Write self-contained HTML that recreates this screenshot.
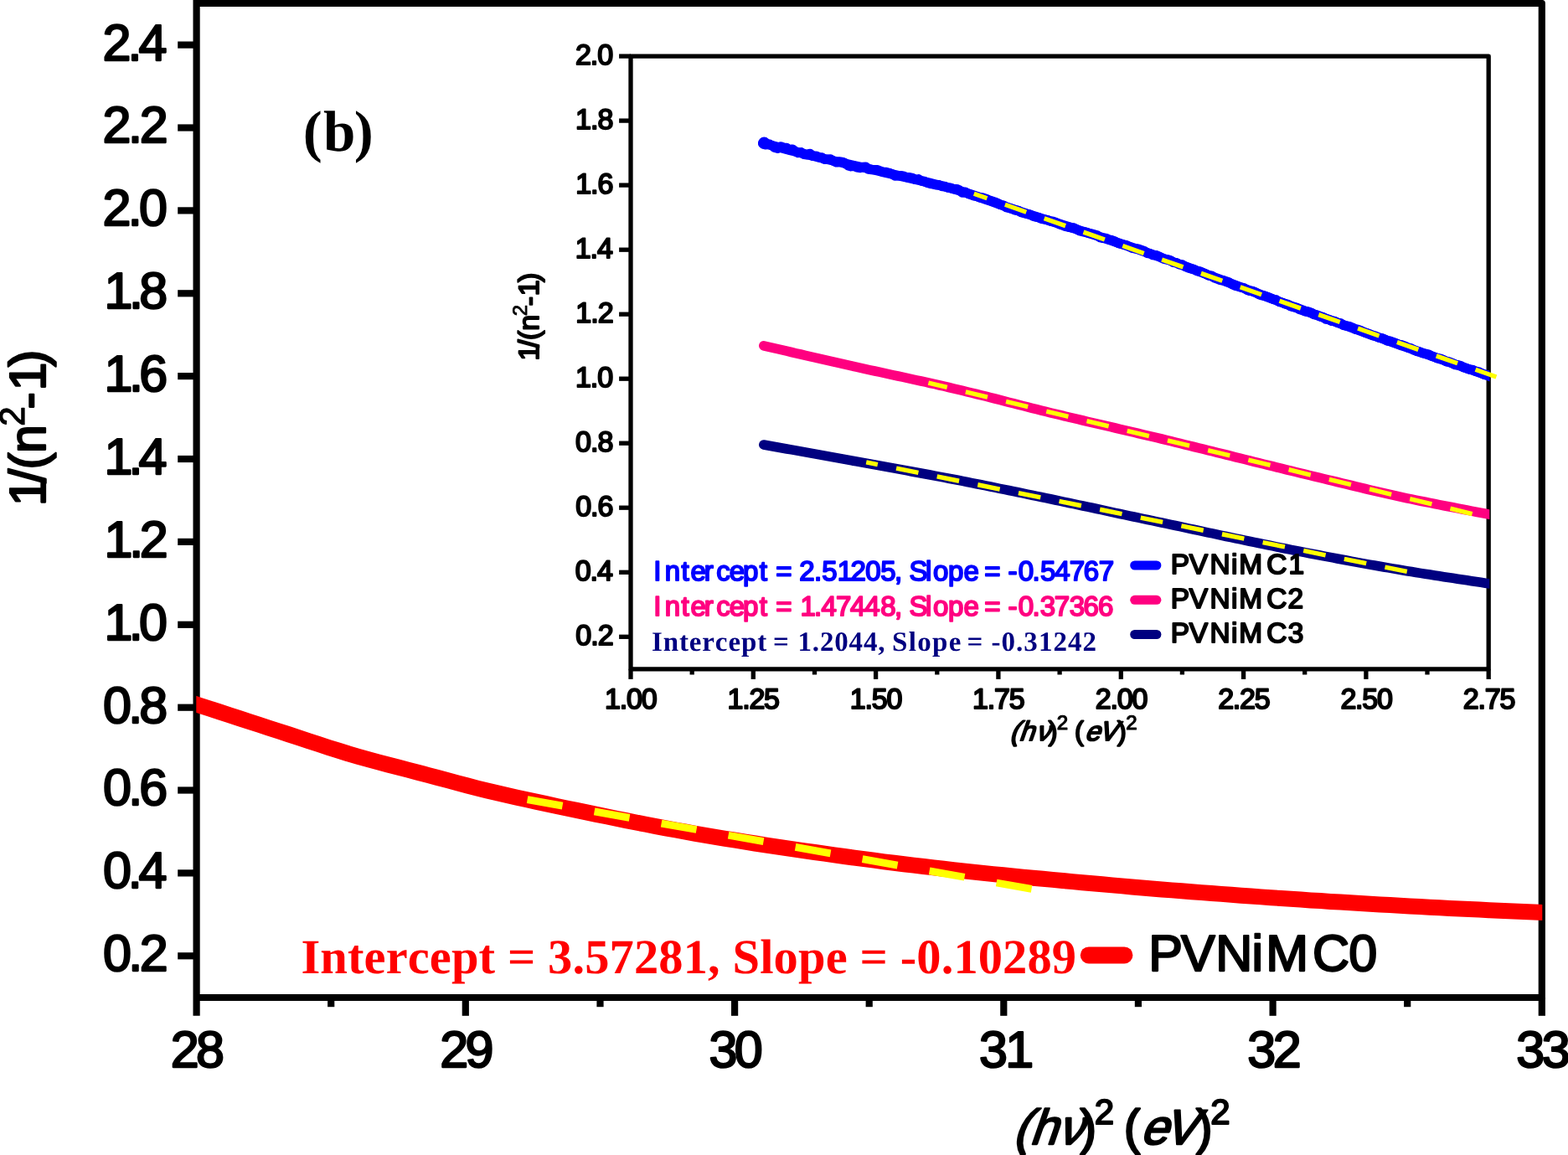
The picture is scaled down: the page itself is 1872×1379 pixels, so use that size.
<!DOCTYPE html>
<html lang="en"><head><meta charset="utf-8"><title>Figure (b)</title>
<style>html,body{margin:0;padding:0;background:#fff;}body{width:1872px;height:1379px;overflow:hidden;}svg{display:block;}</style>
</head><body>
<svg width="1872" height="1379" viewBox="0 0 1872 1379" text-rendering="geometricPrecision">
<g stroke="#000" stroke-width="8.2" fill="none" stroke-linecap="butt">
<path d="M234.6,4.0 L1840.8,4.0 L1840.8,1191.0 L234.6,1191.0" stroke-linejoin="round"/>
<line x1="234.6" x2="234.6" y1="-4" y2="1212.8"/>
<line x1="212.2" x2="234.6" y1="1141.3" y2="1141.3"/>
<line x1="212.2" x2="234.6" y1="1042.4" y2="1042.4"/>
<line x1="212.2" x2="234.6" y1="943.5" y2="943.5"/>
<line x1="212.2" x2="234.6" y1="844.7" y2="844.7"/>
<line x1="212.2" x2="234.6" y1="745.8" y2="745.8"/>
<line x1="212.2" x2="234.6" y1="646.9" y2="646.9"/>
<line x1="212.2" x2="234.6" y1="548.0" y2="548.0"/>
<line x1="212.2" x2="234.6" y1="449.1" y2="449.1"/>
<line x1="212.2" x2="234.6" y1="350.3" y2="350.3"/>
<line x1="212.2" x2="234.6" y1="251.4" y2="251.4"/>
<line x1="212.2" x2="234.6" y1="152.5" y2="152.5"/>
<line x1="212.2" x2="234.6" y1="53.6" y2="53.6"/>
<line x1="555.8" x2="555.8" y1="1191.0" y2="1212.8"/>
<line x1="877.1" x2="877.1" y1="1191.0" y2="1212.8"/>
<line x1="1198.3" x2="1198.3" y1="1191.0" y2="1212.8"/>
<line x1="1519.6" x2="1519.6" y1="1191.0" y2="1212.8"/>
<line x1="1840.8" x2="1840.8" y1="1191.0" y2="1212.8"/>
<line x1="395.2" x2="395.2" y1="1191.0" y2="1202.2"/>
<line x1="716.5" x2="716.5" y1="1191.0" y2="1202.2"/>
<line x1="1037.7" x2="1037.7" y1="1191.0" y2="1202.2"/>
<line x1="1358.9" x2="1358.9" y1="1191.0" y2="1202.2"/>
<line x1="1680.2" x2="1680.2" y1="1191.0" y2="1202.2"/>
</g>
<clipPath id="mc"><rect x="234.29999999999998" y="0" width="1607.0" height="1379"/></clipPath>
<path d="M214.6,834.5 L226.4,838.3 L238.3,842.2 L250.1,846.1 L262.0,849.9 L273.8,853.8 L285.7,857.6 L297.5,861.5 L309.3,865.3 L321.2,869.2 L333.0,873.0 L344.9,876.9 L356.7,880.8 L368.6,884.7 L380.4,888.5 L392.2,892.4 L404.1,896.1 L415.9,899.9 L427.8,903.4 L439.6,906.7 L451.5,909.9 L463.3,913.0 L475.1,916.0 L487.0,919.1 L498.8,922.2 L510.7,925.4 L522.5,928.5 L534.4,931.7 L546.2,934.9 L558.1,938.0 L569.9,941.1 L581.7,944.0 L593.6,946.8 L605.4,949.5 L617.3,952.2 L629.1,954.8 L641.0,957.4 L652.8,959.9 L664.6,962.5 L676.5,965.0 L688.3,967.4 L700.2,969.9 L712.0,972.4 L723.9,974.8 L735.7,977.2 L747.5,979.6 L759.4,982.0 L771.2,984.3 L783.1,986.6 L794.9,988.8 L806.8,991.0 L818.6,993.2 L830.4,995.3 L842.3,997.3 L854.1,999.3 L866.0,1001.3 L877.8,1003.2 L889.7,1005.1 L901.5,1007.0 L913.3,1008.8 L925.2,1010.6 L937.0,1012.4 L948.9,1014.1 L960.7,1015.8 L972.6,1017.5 L984.4,1019.2 L996.2,1020.9 L1008.1,1022.5 L1019.9,1024.1 L1031.8,1025.7 L1043.6,1027.2 L1055.5,1028.8 L1067.3,1030.2 L1079.2,1031.7 L1091.0,1033.1 L1102.8,1034.5 L1114.7,1035.9 L1126.5,1037.2 L1138.4,1038.6 L1150.2,1039.9 L1162.1,1041.1 L1173.9,1042.4 L1185.7,1043.6 L1197.6,1044.8 L1209.4,1045.9 L1221.3,1047.1 L1233.1,1048.2 L1245.0,1049.3 L1256.8,1050.4 L1268.6,1051.5 L1280.5,1052.6 L1292.3,1053.7 L1304.2,1054.8 L1316.0,1055.8 L1327.9,1056.9 L1339.7,1057.9 L1351.5,1059.0 L1363.4,1060.0 L1375.2,1061.0 L1387.1,1062.0 L1398.9,1062.9 L1410.8,1063.8 L1422.6,1064.7 L1434.4,1065.6 L1446.3,1066.5 L1458.1,1067.4 L1470.0,1068.3 L1481.8,1069.2 L1493.7,1070.0 L1505.5,1070.9 L1517.3,1071.7 L1529.2,1072.5 L1541.0,1073.3 L1552.9,1074.1 L1564.7,1074.9 L1576.6,1075.6 L1588.4,1076.4 L1600.3,1077.1 L1612.1,1077.8 L1623.9,1078.5 L1635.8,1079.2 L1647.6,1079.9 L1659.5,1080.6 L1671.3,1081.2 L1683.2,1081.9 L1695.0,1082.5 L1706.8,1083.2 L1718.7,1083.8 L1730.5,1084.4 L1742.4,1085.0 L1754.2,1085.6 L1766.1,1086.1 L1777.9,1086.7 L1789.7,1087.3 L1801.6,1087.8 L1813.4,1088.3 L1825.3,1088.8 L1837.1,1089.3 L1849.0,1089.8 L1860.8,1090.3" fill="none" stroke="#ff0000" stroke-width="19" stroke-linejoin="round" clip-path="url(#mc)"/>
<line x1="629.6" y1="954.7" x2="1232.0" y2="1061.5" stroke="#ffff00" stroke-width="8.8" stroke-dasharray="42.6 38.65"/>
<text x="123.07 153.37 166.69" y="1159.20" style="font-family:'Liberation Sans',Arial,sans-serif;font-size:61.0px" fill="#000" stroke="#000" stroke-width="2.3" stroke-linejoin="round">0.2</text>
<text x="123.07 152.73 165.41" y="1060.32" style="font-family:'Liberation Sans',Arial,sans-serif;font-size:61.0px" fill="#000" stroke="#000" stroke-width="2.3" stroke-linejoin="round">0.4</text>
<text x="123.07 153.18 166.31" y="961.44" style="font-family:'Liberation Sans',Arial,sans-serif;font-size:61.0px" fill="#000" stroke="#000" stroke-width="2.3" stroke-linejoin="round">0.6</text>
<text x="123.07 153.16 166.28" y="862.56" style="font-family:'Liberation Sans',Arial,sans-serif;font-size:61.0px" fill="#000" stroke="#000" stroke-width="2.3" stroke-linejoin="round">0.8</text>
<text x="124.60 153.79 166.01" y="763.68" style="font-family:'Liberation Sans',Arial,sans-serif;font-size:61.0px" fill="#000" stroke="#000" stroke-width="2.3" stroke-linejoin="round">1.0</text>
<text x="124.60 154.14 166.69" y="664.80" style="font-family:'Liberation Sans',Arial,sans-serif;font-size:61.0px" fill="#000" stroke="#000" stroke-width="2.3" stroke-linejoin="round">1.2</text>
<text x="124.60 153.50 165.41" y="565.92" style="font-family:'Liberation Sans',Arial,sans-serif;font-size:61.0px" fill="#000" stroke="#000" stroke-width="2.3" stroke-linejoin="round">1.4</text>
<text x="124.60 153.94 166.31" y="467.04" style="font-family:'Liberation Sans',Arial,sans-serif;font-size:61.0px" fill="#000" stroke="#000" stroke-width="2.3" stroke-linejoin="round">1.6</text>
<text x="124.60 153.93 166.28" y="368.16" style="font-family:'Liberation Sans',Arial,sans-serif;font-size:61.0px" fill="#000" stroke="#000" stroke-width="2.3" stroke-linejoin="round">1.8</text>
<text x="122.38 152.68 166.01" y="269.28" style="font-family:'Liberation Sans',Arial,sans-serif;font-size:61.0px" fill="#000" stroke="#000" stroke-width="2.3" stroke-linejoin="round">2.0</text>
<text x="122.38 153.03 166.69" y="170.40" style="font-family:'Liberation Sans',Arial,sans-serif;font-size:61.0px" fill="#000" stroke="#000" stroke-width="2.3" stroke-linejoin="round">2.2</text>
<text x="122.38 152.39 165.41" y="71.52" style="font-family:'Liberation Sans',Arial,sans-serif;font-size:61.0px" fill="#000" stroke="#000" stroke-width="2.3" stroke-linejoin="round">2.4</text>
<text x="203.77 234.09" y="1274.20" style="font-family:'Liberation Sans',Arial,sans-serif;font-size:61.0px" fill="#000" stroke="#000" stroke-width="2.3" stroke-linejoin="round">28</text>
<text x="525.13 555.45" y="1274.20" style="font-family:'Liberation Sans',Arial,sans-serif;font-size:61.0px" fill="#000" stroke="#000" stroke-width="2.3" stroke-linejoin="round">29</text>
<text x="846.48 876.81" y="1274.20" style="font-family:'Liberation Sans',Arial,sans-serif;font-size:61.0px" fill="#000" stroke="#000" stroke-width="2.3" stroke-linejoin="round">30</text>
<text x="1168.93 1200.30" y="1274.20" style="font-family:'Liberation Sans',Arial,sans-serif;font-size:61.0px" fill="#000" stroke="#000" stroke-width="2.3" stroke-linejoin="round">31</text>
<text x="1489.31 1519.63" y="1274.20" style="font-family:'Liberation Sans',Arial,sans-serif;font-size:61.0px" fill="#000" stroke="#000" stroke-width="2.3" stroke-linejoin="round">32</text>
<text x="1810.35 1840.68" y="1274.20" style="font-family:'Liberation Sans',Arial,sans-serif;font-size:61.0px" fill="#000" stroke="#000" stroke-width="2.3" stroke-linejoin="round">33</text>
<text transform="translate(53.6,600.7) rotate(-90)" y="0" style="font-family:'Liberation Sans',Arial,sans-serif;font-size:61.0px" fill="#000" stroke="#000" stroke-width="2.3" stroke-linejoin="round"><tspan x="-3.50 23.95 40.07 59.80">1/(n</tspan><tspan x="92.04" dy="-24.5" style="font-size:42px" stroke-width="1.3">2</tspan><tspan x="112.14 134.20 162.69" dy="24.5">-1)</tspan></text>
<g><text transform="translate(1208.85,1365.60) skewX(-19.0)" x="0.00 19.93 53.31" y="0" style="font-family:'Liberation Sans',Arial,sans-serif;font-size:58.8px" fill="#000" stroke="#000" stroke-width="2.3" stroke-linejoin="round">(hν</text><text x="1289.41" y="1365.60" style="font-family:'Liberation Sans',Arial,sans-serif;font-size:58.8px" fill="#000" stroke="#000" stroke-width="2.3" stroke-linejoin="round">)</text><text x="1306.69" y="1342.40" style="font-family:'Liberation Sans',Arial,sans-serif;font-size:42px" fill="#000" stroke="#000" stroke-width="2.0" stroke-linejoin="round">2</text><text x="1341.70" y="1365.60" style="font-family:'Liberation Sans',Arial,sans-serif;font-size:58.8px" fill="#000" stroke="#000" stroke-width="2.3" stroke-linejoin="round">(</text><text transform="translate(1360.80,1365.60) skewX(-19.0)" x="0.00 27.67" y="0" style="font-family:'Liberation Sans',Arial,sans-serif;font-size:58.8px" fill="#000" stroke="#000" stroke-width="2.3" stroke-linejoin="round">eV</text><text x="1428.01" y="1365.60" style="font-family:'Liberation Sans',Arial,sans-serif;font-size:58.8px" fill="#000" stroke="#000" stroke-width="2.3" stroke-linejoin="round">)</text><text x="1445.29" y="1342.40" style="font-family:'Liberation Sans',Arial,sans-serif;font-size:42px" fill="#000" stroke="#000" stroke-width="2.0" stroke-linejoin="round">2</text></g>
<text x="361.67 386.12 422.68" y="180.00" style="font-family:'Liberation Serif','Times New Roman',serif;font-weight:700;font-size:69px" fill="#000">(b)</text>
<text x="359.43 382.32 414.97 434.57 460.66 486.74 512.83 538.91 571.57 591.17 605.92 639.37 654.12 683.49 698.23 727.60 756.97 786.35 815.72 845.09 859.83 874.58 907.23 923.61 952.98 985.63 1011.72 1026.46 1059.92 1074.66 1094.27 1123.64 1138.38 1167.75 1197.12 1226.49 1255.86" y="1162.10" style="font-family:'Liberation Serif','Times New Roman',serif;font-weight:700;font-size:58.5px" fill="#ff0000">Intercept = 3.57281, Slope = -0.10289</text>
<line x1="1299.8" x2="1342.4" y1="1140.4" y2="1140.4" stroke="#ff0000" stroke-width="20" stroke-linecap="round"/>
<text x="1371.30 1410.11 1451.21 1494.44 1511.15 1567.12 1610.14" y="1158.80" style="font-family:'Liberation Sans',Arial,sans-serif;font-size:61.0px" fill="#000" stroke="#000" stroke-width="2.3" stroke-linejoin="round">PVNiMC0</text>
<g stroke="#000" stroke-width="5.3" fill="none">
<rect x="753.0" y="67.1" width="1024.2" height="731.7" stroke-linejoin="round"/>
<line x1="739.1" x2="753.0" y1="760.3" y2="760.3"/>
<line x1="739.1" x2="753.0" y1="683.3" y2="683.3"/>
<line x1="739.1" x2="753.0" y1="606.2" y2="606.2"/>
<line x1="739.1" x2="753.0" y1="529.2" y2="529.2"/>
<line x1="739.1" x2="753.0" y1="452.2" y2="452.2"/>
<line x1="739.1" x2="753.0" y1="375.2" y2="375.2"/>
<line x1="739.1" x2="753.0" y1="298.2" y2="298.2"/>
<line x1="739.1" x2="753.0" y1="221.1" y2="221.1"/>
<line x1="739.1" x2="753.0" y1="144.1" y2="144.1"/>
<line x1="739.1" x2="753.0" y1="67.1" y2="67.1"/>
<line x1="753.0" x2="753.0" y1="798.8" y2="810.9"/>
<line x1="899.3" x2="899.3" y1="798.8" y2="810.9"/>
<line x1="1045.6" x2="1045.6" y1="798.8" y2="810.9"/>
<line x1="1191.9" x2="1191.9" y1="798.8" y2="810.9"/>
<line x1="1338.3" x2="1338.3" y1="798.8" y2="810.9"/>
<line x1="1484.6" x2="1484.6" y1="798.8" y2="810.9"/>
<line x1="1630.9" x2="1630.9" y1="798.8" y2="810.9"/>
<line x1="1777.2" x2="1777.2" y1="798.8" y2="810.9"/>
<line x1="826.2" x2="826.2" y1="798.8" y2="805.5"/>
<line x1="972.5" x2="972.5" y1="798.8" y2="805.5"/>
<line x1="1118.8" x2="1118.8" y1="798.8" y2="805.5"/>
<line x1="1265.1" x2="1265.1" y1="798.8" y2="805.5"/>
<line x1="1411.4" x2="1411.4" y1="798.8" y2="805.5"/>
<line x1="1557.7" x2="1557.7" y1="798.8" y2="805.5"/>
<line x1="1704.0" x2="1704.0" y1="798.8" y2="805.5"/>
</g>
<clipPath id="ic"><rect x="700" y="0" width="1078.3" height="900"/></clipPath>
<g clip-path="url(#ic)">
<path d="M911.0,170.9 L916.5,172.4 L922.1,173.8 L927.6,175.3 L933.1,176.7 L938.6,178.2 L944.2,179.6 L949.7,181.0 L955.2,182.4 L960.8,183.8 L966.3,185.2 L971.8,186.5 L977.3,187.9 L982.9,189.2 L988.4,190.5 L993.9,191.8 L999.5,193.1 L1005.0,194.3 L1010.5,195.6 L1016.0,196.8 L1021.6,198.0 L1027.1,199.3 L1032.6,200.5 L1038.2,201.8 L1043.7,203.0 L1049.2,204.3 L1054.7,205.6 L1060.3,206.9 L1065.8,208.1 L1071.3,209.4 L1076.8,210.7 L1082.4,211.9 L1087.9,213.2 L1093.4,214.5 L1099.0,215.8 L1104.5,217.1 L1110.0,218.4 L1115.5,219.8 L1121.1,221.1 L1126.6,222.6 L1132.1,224.0 L1137.7,225.5 L1143.2,227.1 L1148.7,228.8 L1154.2,230.5 L1159.8,232.3 L1165.3,234.2 L1170.8,236.1 L1176.4,238.0 L1181.9,239.9 L1187.4,241.9 L1192.9,243.9 L1198.5,245.8 L1204.0,247.8 L1209.5,249.7 L1215.1,251.5 L1220.6,253.3 L1226.1,255.1 L1231.6,256.9 L1237.2,258.7 L1242.7,260.4 L1248.2,262.1 L1253.8,263.9 L1259.3,265.6 L1264.8,267.3 L1270.3,269.0 L1275.9,270.8 L1281.4,272.5 L1286.9,274.3 L1292.5,276.1 L1298.0,277.8 L1303.5,279.6 L1309.0,281.4 L1314.6,283.2 L1320.1,285.0 L1325.6,286.9 L1331.2,288.7 L1336.7,290.5 L1342.2,292.3 L1347.7,294.2 L1353.3,296.0 L1358.8,297.9 L1364.3,299.8 L1369.8,301.7 L1375.4,303.6 L1380.9,305.5 L1386.4,307.5 L1392.0,309.5 L1397.5,311.5 L1403.0,313.5 L1408.5,315.5 L1414.1,317.6 L1419.6,319.7 L1425.1,321.7 L1430.7,323.8 L1436.2,325.9 L1441.7,328.0 L1447.2,330.1 L1452.8,332.2 L1458.3,334.2 L1463.8,336.3 L1469.4,338.4 L1474.9,340.4 L1480.4,342.5 L1485.9,344.5 L1491.5,346.6 L1497.0,348.7 L1502.5,350.7 L1508.1,352.8 L1513.6,354.9 L1519.1,356.9 L1524.6,359.0 L1530.2,361.0 L1535.7,363.1 L1541.2,365.1 L1546.8,367.1 L1552.3,369.2 L1557.8,371.2 L1563.3,373.2 L1568.9,375.2 L1574.4,377.2 L1579.9,379.2 L1585.5,381.2 L1591.0,383.2 L1596.5,385.2 L1602.0,387.2 L1607.6,389.2 L1613.1,391.2 L1618.6,393.1 L1624.2,395.1 L1629.7,397.1 L1635.2,399.0 L1640.7,401.0 L1646.3,403.0 L1651.8,404.9 L1657.3,406.9 L1662.8,408.9 L1668.4,410.8 L1673.9,412.8 L1679.4,414.7 L1685.0,416.7 L1690.5,418.6 L1696.0,420.5 L1701.5,422.5 L1707.1,424.4 L1712.6,426.3 L1718.1,428.3 L1723.7,430.2 L1729.2,432.1 L1734.7,434.0 L1740.2,436.0 L1745.8,437.9 L1751.3,439.8 L1756.8,441.7 L1762.4,443.7 L1767.9,445.6 L1773.4,447.5 L1778.9,449.4 L1784.5,451.3 L1790.0,453.2" fill="none" stroke="#0000ff" stroke-width="11.4" stroke-linejoin="round" stroke-linecap="round"/>
<path d="M911.0,171.1 L914.5,172.7 L918.0,171.9 L921.5,173.7 L925.0,176.3 L928.5,177.2 L932.0,174.9 L935.5,176.2 L939.0,176.4 L942.5,178.9 L946.0,178.1 L949.5,180.8 L953.0,182.5 L956.5,181.8 L960.0,184.3 L963.5,184.8 L967.0,183.4 L970.5,186.4 L974.0,186.1 L977.5,187.6 L981.0,187.9 L984.5,190.4 L988.0,190.2 L991.5,189.9 L995.0,192.2 L998.5,193.9 L1002.0,192.9 L1005.5,193.3 L1009.0,194.8 L1012.5,197.7 L1016.0,198.7 L1019.5,198.2 L1023.0,199.9 L1026.5,200.5 L1030.0,199.4 L1033.5,199.1 L1037.0,202.1 L1040.5,202.5 L1044.0,202.6 L1047.5,202.8 L1051.0,204.3 L1054.5,205.4 L1058.0,205.5 L1061.5,206.4 L1065.0,207.8 L1068.5,210.1 L1072.0,209.9 L1075.5,209.6 L1079.0,210.4 L1082.5,211.8 L1086.0,211.8 L1089.5,212.6 L1093.0,214.4 L1096.5,213.8 L1100.0,216.0 L1103.5,216.4 L1107.0,218.3 L1110.5,219.3 L1114.0,219.9 L1117.5,220.8 L1121.0,220.7 L1124.5,222.5 L1128.0,222.5 L1131.5,224.1 L1135.0,224.3 L1138.5,225.6 L1142.0,225.6 L1145.5,227.1 L1149.0,230.1 L1152.5,229.3 L1156.0,231.5 L1159.5,232.6 L1163.0,233.9 L1166.5,234.5 L1170.0,236.0 L1173.5,236.0 L1177.0,237.3 L1180.5,238.8 L1184.0,240.0 L1187.5,241.1 L1191.0,242.5 L1194.5,244.5 L1198.0,245.1 L1201.5,247.7 L1205.0,248.4 L1208.5,249.4 L1212.0,250.9 L1215.5,251.3 L1219.0,253.6 L1222.5,254.6 L1226.0,255.5 L1229.5,256.2 L1233.0,257.9 L1236.5,258.9 L1240.0,259.8 L1243.5,261.4 L1247.0,262.0 L1250.5,262.6 L1254.0,264.0 L1257.5,264.5 L1261.0,265.6 L1264.5,267.6 L1268.0,268.8 L1271.5,270.2 L1275.0,271.1 L1278.5,271.7 L1282.0,272.0 L1285.5,273.8 L1289.0,275.7 L1292.5,276.6 L1296.0,277.2 L1299.5,278.3 L1303.0,279.0 L1306.5,280.0 L1310.0,281.0 L1313.5,283.6 L1317.0,284.3 L1320.5,284.5 L1324.0,286.2 L1327.5,286.7 L1331.0,288.1 L1334.5,290.2 L1338.0,291.2 L1341.5,292.1 L1345.0,292.9 L1348.5,294.7 L1352.0,296.4 L1355.5,296.7 L1359.0,297.2 L1362.5,298.4 L1366.0,299.6 L1369.5,302.3 L1373.0,302.8 L1376.5,304.6 L1380.0,304.6 L1383.5,306.0 L1387.0,308.0 L1390.5,309.6 L1394.0,309.9 L1397.5,310.7 L1401.0,313.4 L1404.5,313.7 L1408.0,315.7 L1411.5,316.0 L1415.0,318.3 L1418.5,319.8 L1422.0,320.9 L1425.5,321.6 L1429.0,323.6 L1432.5,323.9 L1436.0,325.5 L1439.5,327.0 L1443.0,329.1 L1446.5,329.2 L1450.0,331.8 L1453.5,333.0 L1457.0,334.6 L1460.5,334.8 L1464.0,335.9 L1467.5,337.2 L1471.0,339.5 L1474.5,341.1 L1478.0,341.9 L1481.5,342.9 L1485.0,343.8 L1488.5,346.1 L1492.0,347.4 L1495.5,347.4 L1499.0,348.9 L1502.5,351.3 L1506.0,352.6 L1509.5,353.0 L1513.0,354.3 L1516.5,355.8 L1520.0,357.3 L1523.5,357.9 L1527.0,360.4 L1530.5,361.2 L1534.0,362.9 L1537.5,363.3 L1541.0,365.8 L1544.5,366.7 L1548.0,367.3 L1551.5,369.6 L1555.0,370.5 L1558.5,372.0 L1562.0,372.0 L1565.5,373.3 L1569.0,375.7 L1572.5,376.2 L1576.0,377.8 L1579.5,378.5 L1583.0,381.1 L1586.5,381.6 L1590.0,383.4 L1593.5,383.4 L1597.0,385.4 L1600.5,385.9 L1604.0,388.5 L1607.5,389.1 L1611.0,389.7 L1614.5,391.0 L1618.0,393.0 L1621.5,393.5 L1625.0,394.9 L1628.5,396.6 L1632.0,397.9 L1635.5,399.3 L1639.0,400.6 L1642.5,401.4 L1646.0,403.1 L1649.5,403.6 L1653.0,405.0 L1656.5,407.1 L1660.0,407.3 L1663.5,408.6 L1667.0,409.9 L1670.5,411.5 L1674.0,412.0 L1677.5,413.3 L1681.0,415.2 L1684.5,415.9 L1688.0,418.0 L1691.5,419.4 L1695.0,420.3 L1698.5,421.7 L1702.0,422.4 L1705.5,423.1 L1709.0,425.0 L1712.5,426.1 L1716.0,427.7 L1719.5,428.1 L1723.0,429.5 L1726.5,431.7 L1730.0,432.0 L1733.5,433.5 L1737.0,435.5 L1740.5,435.7 L1744.0,436.7 L1747.5,438.8 L1751.0,439.8 L1754.5,441.1 L1758.0,441.4 L1761.5,443.2 L1765.0,443.8 L1768.5,445.4 L1772.0,447.3 L1775.5,447.5 L1779.0,449.1 L1782.5,451.4 L1786.0,452.6 L1789.5,453.0" fill="none" stroke="#0000ff" stroke-width="11.4" stroke-linejoin="round" stroke-linecap="round"/>
<circle cx="912.3" cy="170.9" r="7.3" fill="#0000ff"/>
<path d="M911.8,412.8 L917.3,414.1 L922.8,415.4 L928.4,416.6 L933.9,417.9 L939.4,419.2 L944.9,420.5 L950.5,421.8 L956.0,423.0 L961.5,424.3 L967.0,425.6 L972.6,426.8 L978.1,428.1 L983.6,429.4 L989.1,430.6 L994.6,431.9 L1000.2,433.1 L1005.7,434.4 L1011.2,435.6 L1016.7,436.9 L1022.3,438.1 L1027.8,439.3 L1033.3,440.6 L1038.8,441.8 L1044.4,443.0 L1049.9,444.2 L1055.4,445.4 L1060.9,446.6 L1066.5,447.8 L1072.0,449.0 L1077.5,450.2 L1083.0,451.4 L1088.5,452.6 L1094.1,453.8 L1099.6,455.0 L1105.1,456.2 L1110.6,457.5 L1116.2,458.7 L1121.7,460.0 L1127.2,461.2 L1132.7,462.5 L1138.3,463.8 L1143.8,465.1 L1149.3,466.4 L1154.8,467.8 L1160.3,469.1 L1165.9,470.5 L1171.4,471.8 L1176.9,473.2 L1182.4,474.6 L1188.0,476.0 L1193.5,477.4 L1199.0,478.9 L1204.5,480.3 L1210.1,481.7 L1215.6,483.1 L1221.1,484.5 L1226.6,485.9 L1232.1,487.3 L1237.7,488.7 L1243.2,490.1 L1248.7,491.4 L1254.2,492.8 L1259.8,494.1 L1265.3,495.4 L1270.8,496.8 L1276.3,498.1 L1281.9,499.4 L1287.4,500.7 L1292.9,502.0 L1298.4,503.3 L1304.0,504.6 L1309.5,505.9 L1315.0,507.1 L1320.5,508.4 L1326.0,509.7 L1331.6,511.0 L1337.1,512.3 L1342.6,513.6 L1348.1,514.9 L1353.7,516.2 L1359.2,517.5 L1364.7,518.8 L1370.2,520.1 L1375.8,521.4 L1381.3,522.7 L1386.8,524.0 L1392.3,525.4 L1397.8,526.7 L1403.4,528.1 L1408.9,529.4 L1414.4,530.8 L1419.9,532.1 L1425.5,533.5 L1431.0,534.8 L1436.5,536.2 L1442.0,537.6 L1447.6,538.9 L1453.1,540.3 L1458.6,541.7 L1464.1,543.0 L1469.7,544.4 L1475.2,545.8 L1480.7,547.1 L1486.2,548.5 L1491.7,549.9 L1497.3,551.3 L1502.8,552.6 L1508.3,554.0 L1513.8,555.3 L1519.4,556.7 L1524.9,558.1 L1530.4,559.4 L1535.9,560.8 L1541.5,562.1 L1547.0,563.5 L1552.5,564.8 L1558.0,566.1 L1563.5,567.5 L1569.1,568.8 L1574.6,570.1 L1580.1,571.5 L1585.6,572.8 L1591.2,574.2 L1596.7,575.5 L1602.2,576.8 L1607.7,578.2 L1613.3,579.5 L1618.8,580.9 L1624.3,582.2 L1629.8,583.5 L1635.3,584.8 L1640.9,586.1 L1646.4,587.4 L1651.9,588.6 L1657.4,589.9 L1663.0,591.1 L1668.5,592.4 L1674.0,593.6 L1679.5,594.8 L1685.1,595.9 L1690.6,597.1 L1696.1,598.2 L1701.6,599.3 L1707.2,600.4 L1712.7,601.5 L1718.2,602.6 L1723.7,603.7 L1729.2,604.8 L1734.8,605.8 L1740.3,606.9 L1745.8,608.0 L1751.3,609.0 L1756.9,610.1 L1762.4,611.2 L1767.9,612.2 L1773.4,613.3 L1779.0,614.4 L1784.5,615.5 L1790.0,616.5" fill="none" stroke="#ff0080" stroke-width="11.6" stroke-linejoin="round" stroke-linecap="round"/>
<path d="M911.8,531.0 L917.3,532.0 L922.8,533.0 L928.4,534.0 L933.9,535.0 L939.4,536.0 L944.9,536.9 L950.5,537.9 L956.0,538.9 L961.5,539.9 L967.0,540.9 L972.6,541.9 L978.1,542.9 L983.6,543.9 L989.1,544.9 L994.6,545.9 L1000.2,546.9 L1005.7,547.9 L1011.2,548.9 L1016.7,549.9 L1022.3,550.9 L1027.8,551.9 L1033.3,552.9 L1038.8,553.9 L1044.4,554.9 L1049.9,555.9 L1055.4,556.9 L1060.9,557.9 L1066.5,558.9 L1072.0,559.9 L1077.5,560.9 L1083.0,561.9 L1088.5,563.0 L1094.1,564.0 L1099.6,565.0 L1105.1,566.0 L1110.6,567.0 L1116.2,568.1 L1121.7,569.1 L1127.2,570.1 L1132.7,571.2 L1138.3,572.3 L1143.8,573.3 L1149.3,574.4 L1154.8,575.5 L1160.3,576.6 L1165.9,577.7 L1171.4,578.8 L1176.9,579.9 L1182.4,581.0 L1188.0,582.1 L1193.5,583.3 L1199.0,584.4 L1204.5,585.5 L1210.1,586.7 L1215.6,587.8 L1221.1,588.9 L1226.6,590.1 L1232.1,591.2 L1237.7,592.4 L1243.2,593.5 L1248.7,594.7 L1254.2,595.8 L1259.8,597.0 L1265.3,598.1 L1270.8,599.3 L1276.3,600.5 L1281.9,601.6 L1287.4,602.8 L1292.9,604.0 L1298.4,605.2 L1304.0,606.3 L1309.5,607.5 L1315.0,608.7 L1320.5,609.9 L1326.0,611.1 L1331.6,612.3 L1337.1,613.5 L1342.6,614.6 L1348.1,615.8 L1353.7,617.0 L1359.2,618.2 L1364.7,619.4 L1370.2,620.5 L1375.8,621.7 L1381.3,622.9 L1386.8,624.0 L1392.3,625.2 L1397.8,626.4 L1403.4,627.5 L1408.9,628.7 L1414.4,629.9 L1419.9,631.1 L1425.5,632.2 L1431.0,633.4 L1436.5,634.6 L1442.0,635.8 L1447.6,636.9 L1453.1,638.1 L1458.6,639.3 L1464.1,640.5 L1469.7,641.6 L1475.2,642.8 L1480.7,643.9 L1486.2,645.1 L1491.7,646.2 L1497.3,647.4 L1502.8,648.5 L1508.3,649.7 L1513.8,650.8 L1519.4,651.9 L1524.9,653.1 L1530.4,654.2 L1535.9,655.3 L1541.5,656.4 L1547.0,657.5 L1552.5,658.5 L1558.0,659.6 L1563.5,660.7 L1569.1,661.7 L1574.6,662.8 L1580.1,663.9 L1585.6,664.9 L1591.2,665.9 L1596.7,667.0 L1602.2,668.0 L1607.7,669.0 L1613.3,670.1 L1618.8,671.1 L1624.3,672.1 L1629.8,673.1 L1635.3,674.1 L1640.9,675.0 L1646.4,676.0 L1651.9,677.0 L1657.4,677.9 L1663.0,678.9 L1668.5,679.8 L1674.0,680.8 L1679.5,681.7 L1685.1,682.6 L1690.6,683.5 L1696.1,684.4 L1701.6,685.2 L1707.2,686.1 L1712.7,687.0 L1718.2,687.8 L1723.7,688.7 L1729.2,689.5 L1734.8,690.3 L1740.3,691.2 L1745.8,692.0 L1751.3,692.8 L1756.9,693.7 L1762.4,694.5 L1767.9,695.3 L1773.4,696.2 L1779.0,697.0 L1784.5,697.9 L1790.0,698.7" fill="none" stroke="#000080" stroke-width="11.6" stroke-linejoin="round" stroke-linecap="round"/>
</g>
<line x1="1162.8" y1="231.3" x2="1786.4" y2="450.0" stroke="#ffff00" stroke-width="5.4" stroke-dasharray="26.9 22.7" stroke-dashoffset="10.3"/>
<line x1="1108.4" y1="457.1" x2="1758.4" y2="613.7" stroke="#ffff00" stroke-width="5.4" stroke-dasharray="26.9 22.7" stroke-dashoffset="3.9"/>
<line x1="1034.2" y1="551.8" x2="1681.5" y2="682.8" stroke="#ffff00" stroke-width="5.4" stroke-dasharray="26.9 22.7" stroke-dashoffset="13.0"/>
<text x="687.35 705.25 713.70" y="770.39" style="font-family:'Liberation Sans',Arial,sans-serif;font-size:34.0px" fill="#000" stroke="#000" stroke-width="2.0" stroke-linejoin="round">0.2</text>
<text x="686.63 704.54 712.99" y="693.37" style="font-family:'Liberation Sans',Arial,sans-serif;font-size:34.0px" fill="#000" stroke="#000" stroke-width="2.0" stroke-linejoin="round">0.4</text>
<text x="687.13 705.04 713.48" y="616.35" style="font-family:'Liberation Sans',Arial,sans-serif;font-size:34.0px" fill="#000" stroke="#000" stroke-width="2.0" stroke-linejoin="round">0.6</text>
<text x="687.11 705.02 713.47" y="539.33" style="font-family:'Liberation Sans',Arial,sans-serif;font-size:34.0px" fill="#000" stroke="#000" stroke-width="2.0" stroke-linejoin="round">0.8</text>
<text x="686.96 704.87 713.32" y="462.31" style="font-family:'Liberation Sans',Arial,sans-serif;font-size:34.0px" fill="#000" stroke="#000" stroke-width="2.0" stroke-linejoin="round">1.0</text>
<text x="687.35 705.25 713.70" y="385.28" style="font-family:'Liberation Sans',Arial,sans-serif;font-size:34.0px" fill="#000" stroke="#000" stroke-width="2.0" stroke-linejoin="round">1.2</text>
<text x="686.63 704.54 712.99" y="308.26" style="font-family:'Liberation Sans',Arial,sans-serif;font-size:34.0px" fill="#000" stroke="#000" stroke-width="2.0" stroke-linejoin="round">1.4</text>
<text x="687.13 705.04 713.48" y="231.24" style="font-family:'Liberation Sans',Arial,sans-serif;font-size:34.0px" fill="#000" stroke="#000" stroke-width="2.0" stroke-linejoin="round">1.6</text>
<text x="687.11 705.02 713.47" y="154.22" style="font-family:'Liberation Sans',Arial,sans-serif;font-size:34.0px" fill="#000" stroke="#000" stroke-width="2.0" stroke-linejoin="round">1.8</text>
<text x="686.96 704.87 713.32" y="77.20" style="font-family:'Liberation Sans',Arial,sans-serif;font-size:34.0px" fill="#000" stroke="#000" stroke-width="2.0" stroke-linejoin="round">2.0</text>
<text x="722.08 739.79 748.04 765.75" y="845.90" style="font-family:'Liberation Sans',Arial,sans-serif;font-size:34.0px" fill="#000" stroke="#000" stroke-width="2.0" stroke-linejoin="round">1.00</text>
<text x="868.45 886.16 894.40 912.11" y="845.90" style="font-family:'Liberation Sans',Arial,sans-serif;font-size:34.0px" fill="#000" stroke="#000" stroke-width="2.0" stroke-linejoin="round">1.25</text>
<text x="1014.71 1032.42 1040.67 1058.38" y="845.90" style="font-family:'Liberation Sans',Arial,sans-serif;font-size:34.0px" fill="#000" stroke="#000" stroke-width="2.0" stroke-linejoin="round">1.50</text>
<text x="1161.07 1178.78 1187.03 1204.74" y="845.90" style="font-family:'Liberation Sans',Arial,sans-serif;font-size:34.0px" fill="#000" stroke="#000" stroke-width="2.0" stroke-linejoin="round">1.75</text>
<text x="1307.78 1325.49 1333.73 1351.44" y="845.90" style="font-family:'Liberation Sans',Arial,sans-serif;font-size:34.0px" fill="#000" stroke="#000" stroke-width="2.0" stroke-linejoin="round">2.00</text>
<text x="1454.14 1471.85 1480.10 1497.81" y="845.90" style="font-family:'Liberation Sans',Arial,sans-serif;font-size:34.0px" fill="#000" stroke="#000" stroke-width="2.0" stroke-linejoin="round">2.25</text>
<text x="1600.41 1618.12 1626.36 1644.07" y="845.90" style="font-family:'Liberation Sans',Arial,sans-serif;font-size:34.0px" fill="#000" stroke="#000" stroke-width="2.0" stroke-linejoin="round">2.50</text>
<text x="1746.77 1764.48 1772.73 1790.44" y="845.90" style="font-family:'Liberation Sans',Arial,sans-serif;font-size:34.0px" fill="#000" stroke="#000" stroke-width="2.0" stroke-linejoin="round">2.75</text>
<text transform="translate(643.4,428.8) rotate(-90)" y="0" style="font-family:'Liberation Sans',Arial,sans-serif;font-size:34.0px" fill="#000" stroke="#000" stroke-width="2.0" stroke-linejoin="round"><tspan x="-1.59 13.80 22.69 34.14">1/(n</tspan><tspan x="51.44" dy="-14.5" style="font-size:24px" stroke-width="0.9">2</tspan><tspan x="63.59 75.61 91.90" dy="14.5">-1)</tspan></text>
<g><text transform="translate(1204.94,883.50) skewX(-19.0)" x="0.00 11.42 31.49" y="0" style="font-family:'Liberation Sans',Arial,sans-serif;font-size:32.3px" fill="#000" stroke="#000" stroke-width="2.0" stroke-linejoin="round">(hν</text><text x="1251.71" y="883.50" style="font-family:'Liberation Sans',Arial,sans-serif;font-size:32.3px" fill="#000" stroke="#000" stroke-width="2.0" stroke-linejoin="round">)</text><text x="1261.79" y="870.60" style="font-family:'Liberation Sans',Arial,sans-serif;font-size:24px" fill="#000" stroke="#000" stroke-width="1.2" stroke-linejoin="round">2</text><text x="1283.00" y="883.50" style="font-family:'Liberation Sans',Arial,sans-serif;font-size:32.3px" fill="#000" stroke="#000" stroke-width="2.0" stroke-linejoin="round">(</text><text transform="translate(1294.71,883.50) skewX(-19.0)" x="0.00 16.70" y="0" style="font-family:'Liberation Sans',Arial,sans-serif;font-size:32.3px" fill="#000" stroke="#000" stroke-width="2.0" stroke-linejoin="round">eV</text><text x="1334.01" y="883.50" style="font-family:'Liberation Sans',Arial,sans-serif;font-size:32.3px" fill="#000" stroke="#000" stroke-width="2.0" stroke-linejoin="round">)</text><text x="1344.29" y="870.60" style="font-family:'Liberation Sans',Arial,sans-serif;font-size:24px" fill="#000" stroke="#000" stroke-width="1.2" stroke-linejoin="round">2</text></g>
<text x="780.17 793.84 813.48 824.55 840.85 855.32 870.70 887.07 906.65 916.49 926.34 940.34 954.33 971.95 981.34 999.63 1015.44 1033.34 1051.25 1067.99 1076.77 1085.56 1104.92 1113.88 1131.94 1150.62 1162.98 1175.34 1189.40 1203.46 1215.86 1232.42 1242.06 1259.30 1276.74 1293.85 1311.78" y="692.90" style="font-family:'Liberation Sans',Arial,sans-serif;font-size:33.0px" fill="#0000ff" stroke="#0000ff" stroke-width="1.9" stroke-linejoin="round" xml:space="preserve">Intercept = 2.51205, Slope = -0.54767</text>
<text x="780.17 793.84 813.48 824.55 840.85 855.32 870.70 887.07 906.65 916.49 926.34 940.98 955.62 971.95 980.45 997.89 1015.06 1032.16 1051.14 1067.99 1076.77 1085.56 1104.92 1113.88 1131.94 1150.62 1162.98 1175.34 1189.40 1203.46 1215.86 1232.42 1241.70 1258.79 1276.74 1293.42 1310.94" y="734.90" style="font-family:'Liberation Sans',Arial,sans-serif;font-size:33.0px" fill="#ff0080" stroke="#ff0080" stroke-width="1.9" stroke-linejoin="round" xml:space="preserve">Intercept = 1.47448, Slope = -0.37366</text>
<text x="777.99 791.71 810.94 822.81 838.34 853.87 869.40 884.92 904.16 915.15 922.96 941.76 952.46 969.81 978.91 996.26 1013.61 1030.96 1048.31 1056.56 1064.94 1084.64 1095.16 1113.01 1132.71 1147.35 1154.56 1173.36 1183.49 1195.52 1213.06 1222.35 1239.89 1257.44 1274.98 1292.52" y="776.90" style="font-family:'Liberation Serif','Times New Roman',serif;font-weight:700;font-size:33px" fill="#000080" xml:space="preserve">Intercept = 1.2044, Slope = -0.31242</text>
<line x1="1354.7" x2="1380.9" y1="675" y2="675" stroke="#0000ff" stroke-width="11" stroke-linecap="round"/>
<text x="1397.86 1419.65 1444.56 1470.07 1479.16 1512.20 1538.46" y="684.60" style="font-family:'Liberation Sans',Arial,sans-serif;font-size:33.4px" fill="#000" stroke="#000" stroke-width="2.0" stroke-linejoin="round">PVNiMC1</text>
<line x1="1354.7" x2="1380.9" y1="716.3" y2="716.3" stroke="#ff0080" stroke-width="11" stroke-linecap="round"/>
<text x="1397.86 1419.65 1444.56 1470.07 1479.16 1512.20 1537.42" y="725.90" style="font-family:'Liberation Sans',Arial,sans-serif;font-size:33.4px" fill="#000" stroke="#000" stroke-width="2.0" stroke-linejoin="round">PVNiMC2</text>
<line x1="1354.7" x2="1380.9" y1="757.5" y2="757.5" stroke="#000080" stroke-width="11" stroke-linecap="round"/>
<text x="1397.86 1419.65 1444.56 1470.07 1479.16 1512.20 1537.83" y="767.30" style="font-family:'Liberation Sans',Arial,sans-serif;font-size:33.4px" fill="#000" stroke="#000" stroke-width="2.0" stroke-linejoin="round">PVNiMC3</text>
</svg>
</body></html>
